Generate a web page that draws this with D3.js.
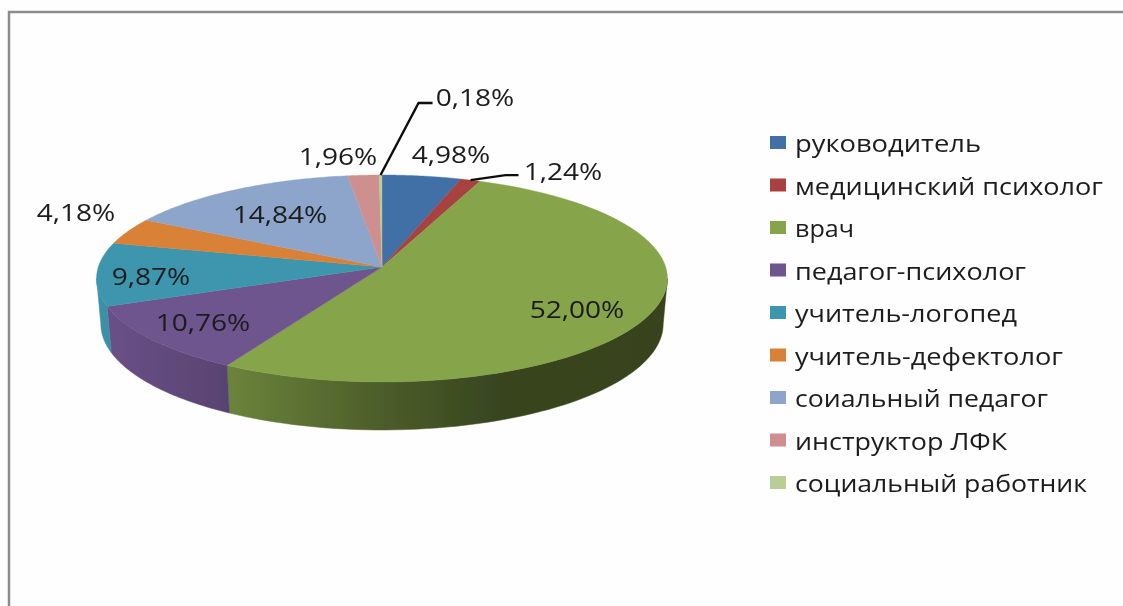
<!DOCTYPE html>
<html>
<head>
<meta charset="utf-8">
<title>Pie</title>
<script src="https://d3js.org/d3.v7.min.js"></script>
<style>
  html, body { margin: 0; padding: 0; background: #fefefe; }
  text { font-family: "Open Sans", sans-serif; fill: #1c1c1c; }
</style>
</head>
<body>
<div id="chart"></div>
<script>
// values
var categories = ["руководитель", "медицинский психолог", "врач", "педагог-психолог", "учитель-логопед",
  "учитель-дефектолог", "соиальный педагог", "инструктор ЛФК", "социальный работник"];
var values = [4.98, 1.24, 52.00, 10.76, 9.87, 4.18, 14.84, 1.96, 0.18];
var labels = ["4,98%", "1,24%", "52,00%", "10,76%", "9,87%", "4,18%", "14,84%", "1,96%", "0,18%"];
var colors = ["#416fa6", "#a8423f", "#86a44a", "#6e548d", "#3d96ae", "#da8137", "#8ea5cb", "#ce8f8f", "#b9cd96"];

var width = 1123, height = 606;
var svg = d3.select("#chart").append("svg")
  .attr("width", width).attr("height", height)
  .style("display", "block");

var defs = svg.append("defs");
// the reference is a soft, upscaled picture
defs.append("filter").attr("id", "soft")
  .attr("filterUnits", "userSpaceOnUse")
  .attr("x", 0).attr("y", 0).attr("width", width).attr("height", height)
  .append("feGaussianBlur").attr("stdDeviation", 0.5);
var root = svg.append("g").attr("filter", "url(#soft)");

// frame, runs off the right and bottom of the picture
root.append("path")
  .attr("d", d3.line()([[9, height + 5], [9, 12], [width + 5, 12]]))
  .attr("fill", "none").attr("stroke", "#8c8c8c").attr("stroke-width", 2.5);

// tilted disc: a circle seen in perspective, apex at cx,cy
var cx = 382, cy = 267, R = 283.7, k = 102.2, p = 0.111, depth = 48;
function project(a, down) {
  var u = Math.sin(a), v = Math.cos(a), w = 1 + p * v;
  if (!down) return [cx + R * u / w, cy - k * v / w];
  // bottom rim is a bit narrower and the wall shrinks towards the sides
  return [cx + 0.985 * R * u / w, cy - k * v / w + down * (1 - 0.06 * (1 + v))];
}
function rimPoints(a0, a1, down) {
  return d3.range(0, 61).map(function(i) { return project(a0 + (a1 - a0) * i / 60, down); });
}

var arcs = d3.pie().sort(null).value(function(d) { return d; })(values);
var line = d3.line();

// gradient for the side wall, dark towards the right
var shade = [[0, 0.97], [0.025, 0.95], [0.233, 0.8], [0.5, 0.57], [0.71, 0.42], [1, 0.41]];
colors.forEach(function(c, i) {
  var g = defs.append("linearGradient")
    .attr("id", "side" + i)
    .attr("gradientUnits", "userSpaceOnUse")
    .attr("x1", 96).attr("x2", 667).attr("y1", 0).attr("y2", 0);
  shade.forEach(function(s) {
    var col = d3.rgb(c);
    g.append("stop").attr("offset", s[0])
      .attr("stop-color", d3.rgb(col.r * s[1], col.g * s[1], col.b * s[1]).formatHex());
  });
});

// side wall: only the part of the rim facing the viewer
var frontStart = Math.PI / 2 + p, frontEnd = 3 * Math.PI / 2 - p;
var wall = root.append("g");
arcs.forEach(function(d, i) {
  var a0 = Math.max(d.startAngle, frontStart), a1 = Math.min(d.endAngle, frontEnd);
  if (a1 <= a0) return;
  var pts = rimPoints(a0, a1, 0).concat(rimPoints(a0, a1, depth).reverse());
  wall.append("path").attr("d", line(pts) + "Z")
    .attr("fill", "url(#side" + i + ")")
    .attr("stroke", "url(#side" + i + ")").attr("stroke-width", 0.5);
});

// top of the disc
root.append("g").selectAll("path").data(arcs).enter().append("path")
  .attr("d", function(d) {
    return line([[cx, cy]].concat(rimPoints(d.startAngle, d.endAngle, 0))) + "Z";
  })
  .attr("fill", function(d, i) { return colors[i]; })
  .attr("stroke", function(d, i) { return colors[i]; })
  .attr("stroke-width", 0.4);

// leader lines for the two thin slices
var leaders = [
  { i: 1, dx: [0, 35, 48], dy: [0, -5, -5] },
  { i: 8, dx: [0, 38, 52], dy: [0, -72, -72] }
];
leaders.forEach(function(l) {
  var mid = (arcs[l.i].startAngle + arcs[l.i].endAngle) / 2;
  var o = project(mid);
  root.append("path")
    .attr("d", line(l.dx.map(function(x, j) { return [o[0] + x, o[1] + l.dy[j]]; })))
    .attr("fill", "none").attr("stroke", "#111").attr("stroke-width", 2.4);
});

// data labels
var labelX = [451, 563, 577, 203, 151, 76, 280, 338, 475];
var labelY = [154, 171, 309, 322, 276, 212, 214, 156, 97];
root.append("g").selectAll("text").data(labels).enter().append("text")
  .attr("text-anchor", "middle").attr("dominant-baseline", "central")
  .attr("font-size", 24)
  .attr("transform", function(d, i) { return "translate(" + labelX[i] + "," + labelY[i] + ") scale(1.17,1)"; })
  .text(function(d) { return d; });

// legend
var legendTextWidth = [186, 308, 59, 231, 222, 268, 253, 212, 292];
var legendY = d3.scalePoint().domain(categories).range([143, 483]);
var legend = root.append("g").selectAll("g").data(categories).enter().append("g")
  .attr("transform", function(d) { return "translate(770," + legendY(d) + ")"; });
legend.append("rect")
  .attr("x", 0).attr("y", -7).attr("width", 16).attr("height", 13)
  .attr("fill", function(d, i) { return colors[i]; });
legend.append("text")
  .attr("x", 25).attr("y", 0)
  .attr("dominant-baseline", "central")
  .attr("font-size", 23)
  .attr("textLength", function(d, i) { return legendTextWidth[i]; })
  .attr("lengthAdjust", "spacingAndGlyphs")
  .text(function(d) { return d; });
</script>
</body>
</html>
